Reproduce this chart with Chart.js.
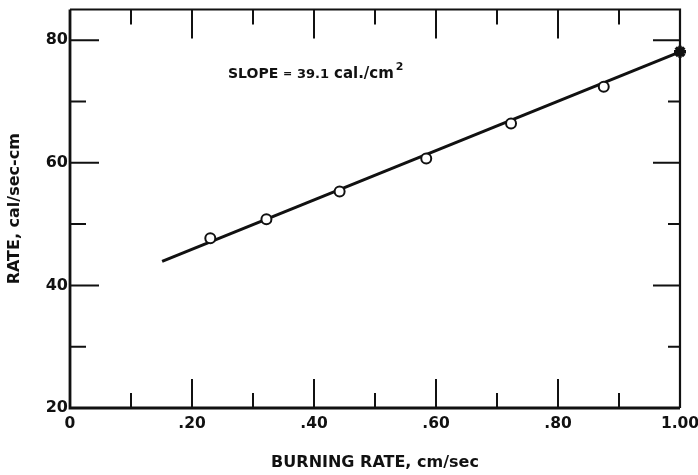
<!DOCTYPE html>
<html>
<head>
<meta charset="utf-8">
<script src="https://cdn.jsdelivr.net/npm/chart.js@4.4.1/dist/chart.umd.min.js"></script>
<style>
  html, body { margin: 0; padding: 0; background: #fff; }
  #wrap { width: 698px; height: 475px; position: relative; }
</style>
</head>
<body>
<div id="wrap"><canvas id="c"></canvas></div>
<script>
// Burning rate (cm/sec) vs. heat release rate (cal/sec-cm)
const measuredBurningRate = [0.230, 0.322, 0.442, 0.584, 0.723, 0.875];
const measuredHeatRate    = [47.7, 50.8, 55.3, 60.7, 66.4, 72.4];
const extrapolatedBurningRate = [1.00];
const extrapolatedHeatRate    = [78.1];
const fitBurningRate = [0.151, 1.00];
const fitHeatRate    = [43.9, 78.1];

const xTickValues  = [0, 0.2, 0.4, 0.6, 0.8, 1.0];
const xTickLabels  = ['0', '.20', '.40', '.60', '.80', '1.00'];
const xMinorTicks  = [0.1, 0.3, 0.5, 0.7, 0.9];
const yTickValues  = [20, 40, 60, 80];
const yTickLabels  = ['20', '40', '60', '80'];
const yMinorTicks  = [30, 50, 70];

const slopeWord = 'SLOPE';
const slopeEq   = '=';
const slopeNum  = '39.1';
const slopeUnit = 'cal./cm';
const slopeExp  = '2';

const FONT = "'DejaVu Sans', 'Liberation Sans', sans-serif";
const INK = '#111';

const toPoints = (xs, ys) => xs.map((x, i) => ({ x: x, y: ys[i] }));

// Frame, inward tick marks on all four sides, and the slope note
const framePlugin = {
  id: 'frameTicks',
  beforeDatasetsDraw(chart) {
    const { ctx, chartArea: a, scales: { x, y } } = chart;
    ctx.save();
    ctx.strokeStyle = INK;
    ctx.lineCap = 'butt';

    // frame: heavier left/bottom, lighter top/right
    ctx.lineWidth = 2.8;
    ctx.beginPath();
    ctx.moveTo(a.left, a.top); ctx.lineTo(a.left, a.bottom); ctx.lineTo(a.right, a.bottom);
    ctx.stroke();
    ctx.lineWidth = 2.2;
    ctx.beginPath();
    ctx.moveTo(a.left, a.top); ctx.lineTo(a.right, a.top); ctx.lineTo(a.right, a.bottom);
    ctx.stroke();

    ctx.lineWidth = 2;
    const major = 29, minor = 15;
    const vTick = (v, len) => {
      const px = x.getPixelForValue(v);
      ctx.beginPath();
      ctx.moveTo(px, a.bottom); ctx.lineTo(px, a.bottom - len);
      ctx.moveTo(px, a.top); ctx.lineTo(px, a.top + len);
      ctx.stroke();
    };
    const hTick = (v, lenL, lenR) => {
      const py = y.getPixelForValue(v);
      ctx.beginPath();
      ctx.moveTo(a.left, py); ctx.lineTo(a.left + lenL, py);
      ctx.moveTo(a.right, py); ctx.lineTo(a.right - lenR, py);
      ctx.stroke();
    };
    xTickValues.filter(v => v > 0 && v < 1).forEach(v => vTick(v, major));
    xMinorTicks.forEach(v => vTick(v, minor));
    yTickValues.filter(v => v > 20).forEach(v => hTick(v, major, 27));
    yMinorTicks.forEach(v => hTick(v, 16, 12));

    // slope annotation
    ctx.fillStyle = INK;
    ctx.textBaseline = 'alphabetic';
    ctx.textAlign = 'left';
    const ty = a.top + 68;
    ctx.font = `bold 14px ${FONT}`;
    ctx.fillText(slopeWord, a.left + 158, ty);
    ctx.font = `bold 11px ${FONT}`;
    ctx.fillText(slopeEq, a.left + 213, ty - 1);
    ctx.font = `bold 13px ${FONT}`;
    ctx.fillText(slopeNum, a.left + 227, ty);
    ctx.font = `bold 15px ${FONT}`;
    const ux = a.left + 264;
    ctx.fillText(slopeUnit, ux, ty);
    const uw = ctx.measureText(slopeUnit).width;
    ctx.font = `bold 11px ${FONT}`;
    ctx.fillText(slopeExp, ux + uw + 2, ty - 8);
    ctx.restore();
  }
};

new Chart(document.getElementById('c'), {
  type: 'scatter',
  data: {
    datasets: [
      {
        type: 'line',
        data: toPoints(fitBurningRate, fitHeatRate),
        borderColor: INK,
        borderWidth: 3,
        pointRadius: 0,
        fill: false,
        clip: false,
        order: 3
      },
      {
        data: toPoints(measuredBurningRate, measuredHeatRate),
        pointStyle: 'circle',
        pointRadius: 5,
        pointBorderWidth: 2,
        pointBackgroundColor: '#fff',
        pointBorderColor: INK,
        clip: false,
        order: 1
      },
      {
        data: toPoints(extrapolatedBurningRate, extrapolatedHeatRate),
        pointStyle: 'star',
        pointRadius: 6,
        pointBorderWidth: 3.5,
        pointBackgroundColor: INK,
        pointBorderColor: INK,
        clip: false,
        order: 0
      }
    ]
  },
  options: {
    responsive: true,
    maintainAspectRatio: false,
    animation: false,
    events: [],
    layout: { padding: { top: 9, right: 18, left: 0, bottom: 0 } },
    plugins: { legend: { display: false }, tooltip: { enabled: false } },
    scales: {
      x: {
        type: 'linear',
        min: 0, max: 1,
        afterBuildTicks: s => { s.ticks = xTickValues.map(v => ({ value: v })); },
        afterFit: s => { s.height = 67; s.paddingLeft = 0; s.paddingRight = 0; },
        grid: { display: false, drawTicks: false },
        border: { display: false },
        ticks: {
          color: INK,
          padding: 7,
          maxRotation: 0,
          autoSkip: false,
          font: { family: FONT, size: 15.5, weight: 'bold' },
          callback: (v) => xTickLabels[xTickValues.findIndex(t => Math.abs(t - v) < 1e-9)]
        },
        title: {
          display: true,
          text: 'BURNING RATE, cm/sec',
          color: INK,
          font: { family: FONT, size: 16, weight: 'bold' },
          padding: { top: 0, bottom: 2.5 }
        }
      },
      y: {
        type: 'linear',
        min: 20, max: 85,
        afterBuildTicks: s => { s.ticks = yTickValues.map(v => ({ value: v })); },
        afterFit: s => { s.width = 70; s.paddingTop = 0; s.paddingBottom = 0; },
        grid: { display: false, drawTicks: false },
        border: { display: false },
        ticks: {
          color: INK,
          padding: 2,
          autoSkip: false,
          font: { family: FONT, size: 16, weight: 'bold' },
          callback: (v) => yTickLabels[yTickValues.indexOf(v)]
        },
        title: {
          display: true,
          text: 'RATE, cal/sec-cm',
          color: INK,
          font: { family: FONT, size: 16, weight: 'bold' },
          padding: { top: 5.5, bottom: 0 }
        }
      }
    }
  },
  plugins: [framePlugin]
});
</script>
</body>
</html>
